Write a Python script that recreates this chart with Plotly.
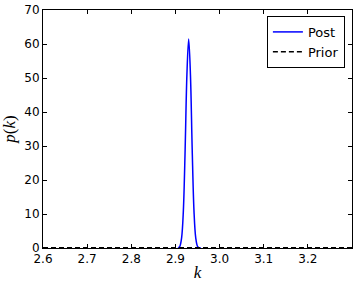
import plotly.graph_objects as go

# Posterior density p(k)
post_k = [2.906, 2.910, 2.914, 2.918, 2.922, 2.926, 2.930, 2.934, 2.938, 2.942,
          2.946, 2.950, 2.954, 2.958]
post_p = [0.0, 0.5, 3.0, 11.0, 29.0, 51.0, 61.5, 51.0, 29.0, 11.0,
          3.0, 0.5, 0.0, 0.0]

# Prior density (flat, near zero)
prior_k = [2.6, 3.3]
prior_p = [0.1, 0.1]

x_ticks = [2.6, 2.7, 2.8, 2.9, 3.0, 3.1, 3.2]
x_tick_text = ["2.6", "2.7", "2.8", "2.9", "3.0", "3.1", "3.2"]
y_ticks = [0, 10, 20, 30, 40, 50, 60, 70]

fig = go.Figure()
fig.add_trace(go.Scatter(x=post_k, y=post_p, mode="lines", name="Post",
                         line=dict(color="#0000ff", width=1.5, shape="spline")))
fig.add_trace(go.Scatter(x=prior_k, y=prior_p, mode="lines", name="Prior",
                         line=dict(color="black", width=1.5, dash="5px,3px")))

axis_common = dict(showline=True, linecolor="black", linewidth=1, mirror="allticks",
                   ticks="inside", ticklen=4, tickcolor="black", showgrid=False,
                   zeroline=False, automargin=False,
                   tickfont=dict(family="DejaVu Sans", size=12, color="black"))

fig.update_layout(
    width=357, height=283,
    margin=dict(l=43, r=5, t=10, b=35),
    paper_bgcolor="white", plot_bgcolor="white",
    xaxis=dict(range=[2.6, 3.3], tickvals=x_ticks, ticktext=x_tick_text,
               title=dict(text="<i>k</i>", font=dict(family="Liberation Serif", size=17, color="black"),
                          standoff=0),
               **axis_common),
    yaxis=dict(range=[0, 70], tickvals=y_ticks,
               title=dict(text="<i>p</i>(<i>k</i>)", font=dict(family="Liberation Serif", size=17, color="black"),
                          standoff=6),
               **axis_common),
    legend=dict(x=0.977, y=0.975, xanchor="right", yanchor="top",
                bordercolor="black", borderwidth=1, bgcolor="white",
                font=dict(family="DejaVu Sans", size=13, color="black"),
                itemwidth=30, tracegroupgap=0),
    showlegend=True,
)

fig.write_html("out.html", config={"displayModeBar": False},
               post_script="document.body.style.margin='0';")
